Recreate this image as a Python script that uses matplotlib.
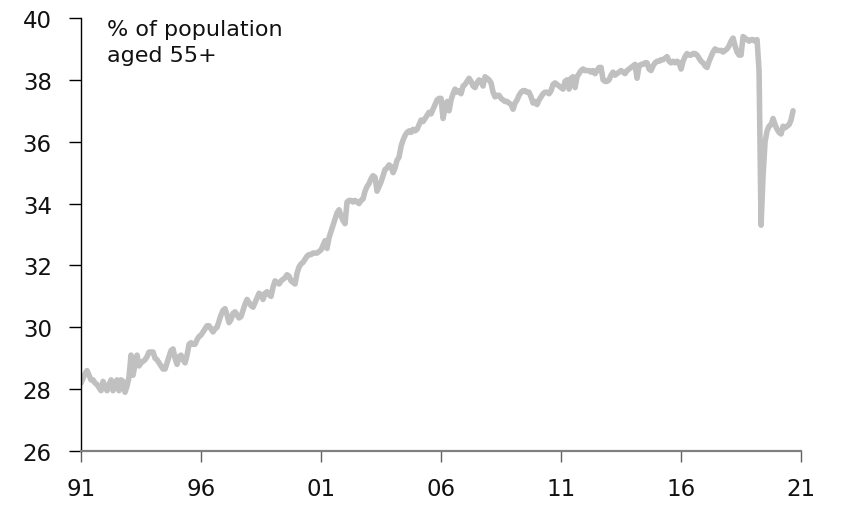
import numpy as np
import matplotlib
matplotlib.use("Agg")
import matplotlib.pyplot as plt

plt.rcParams["font.family"] = ["DejaVu Sans"]

# Monthly share of the population aged 55+ (%), one row per year
share = [
    28.2, 28.35, 28.5, 28.6, 28.45, 28.3, 28.3, 28.2, 28.15, 28.05, 27.95, 28.25,
    28.1, 27.95, 28.15, 28.3, 27.95, 28.2, 28.3, 27.95, 28.3, 28.25, 27.9, 28.1,
    28.4, 29.1, 28.45, 28.8, 29.1, 28.75, 28.85, 28.9, 28.95, 29.05, 29.2, 29.2,
    29.2, 29.0, 28.95, 28.85, 28.75, 28.65, 28.65, 28.85, 29.05, 29.25, 29.3, 29.0,
    28.8, 29.05, 29.1, 28.95, 28.85, 29.1, 29.45, 29.5, 29.45, 29.45, 29.6, 29.7,
    29.75, 29.85, 29.95, 30.05, 30.05, 29.95, 29.85, 29.95, 30.0, 30.2, 30.4, 30.55,
    30.6, 30.4, 30.15, 30.25, 30.45, 30.5, 30.4, 30.3, 30.35, 30.55, 30.75, 30.9,
    30.8, 30.7, 30.65, 30.8, 30.95, 31.1, 31.05, 30.9, 31.1, 31.15, 31.05, 31.0,
    31.3, 31.5, 31.45, 31.4, 31.5, 31.55, 31.6, 31.7, 31.65, 31.5, 31.45, 31.4,
    31.75, 31.95, 32.05, 32.1, 32.2, 32.3, 32.35, 32.35, 32.4, 32.4, 32.4, 32.45,
    32.5, 32.65, 32.8, 32.55, 32.9, 33.1, 33.3, 33.5, 33.7, 33.8, 33.6, 33.45,
    33.35, 34.05, 34.1, 34.1, 34.05, 34.1, 34.05, 34.0, 34.1, 34.15, 34.4, 34.55,
    34.65, 34.8, 34.9, 34.85, 34.4, 34.55, 34.7, 34.9, 35.1, 35.15, 35.25, 35.2,
    35.0, 35.15, 35.4, 35.5, 35.85, 36.05, 36.2, 36.3, 36.35, 36.3, 36.4, 36.35,
    36.4, 36.55, 36.7, 36.65, 36.75, 36.85, 36.95, 36.9, 37.05, 37.2, 37.35, 37.4,
    37.4, 36.75, 37.1, 37.3, 37.0, 37.35, 37.55, 37.7, 37.6, 37.65, 37.55, 37.8,
    37.85, 37.95, 38.05, 37.95, 37.8, 37.75, 37.9, 38.0, 37.95, 37.8, 38.1, 38.05,
    38.0, 37.9, 37.6, 37.45, 37.5, 37.5, 37.4, 37.35, 37.3, 37.3, 37.25, 37.2,
    37.05, 37.25, 37.35, 37.5, 37.6, 37.65, 37.65, 37.6, 37.6, 37.45, 37.25, 37.3,
    37.2, 37.35, 37.45, 37.55, 37.6, 37.6, 37.55, 37.65, 37.85, 37.9, 37.85, 37.8,
    37.75, 37.7, 37.95, 38.0, 37.7, 38.05, 38.1, 37.75, 38.1, 38.2, 38.3, 38.35,
    38.3, 38.3, 38.3, 38.25, 38.3, 38.2, 38.3, 38.4, 38.4, 38.0, 37.95, 37.95,
    38.0, 38.15, 38.25, 38.15, 38.2, 38.25, 38.3, 38.25, 38.2, 38.3, 38.35, 38.4,
    38.45, 38.5, 38.05, 38.45, 38.5, 38.5, 38.55, 38.55, 38.35, 38.3, 38.45, 38.55,
    38.6, 38.6, 38.65, 38.65, 38.7, 38.75, 38.6, 38.55, 38.6, 38.55, 38.6, 38.55,
    38.35, 38.6, 38.75, 38.85, 38.8, 38.8, 38.85, 38.85, 38.8, 38.7, 38.6, 38.55,
    38.45, 38.4, 38.6, 38.75, 38.9, 39.0, 38.95, 38.95, 38.95, 38.9, 38.95, 39.0,
    39.1, 39.25, 39.35, 39.1, 38.9, 38.8, 38.8, 39.4, 39.35, 39.3, 39.25, 39.3,
    39.3, 39.25, 39.3, 38.3, 33.3, 34.9, 36.0, 36.35, 36.5, 36.55, 36.75, 36.55,
    36.4, 36.3, 36.25, 36.5, 36.45, 36.5, 36.55, 36.7, 37.0,
]

# Axis labels: two-digit years every five years (month offsets from the start)
tick_months = [0, 60, 120, 180, 240, 300, 360]
tick_labels = ["91", "96", "01", "06", "11", "16", "21"]
y_ticks = [26, 28, 30, 32, 34, 36, 38, 40]

months = np.arange(len(share))

fig = plt.figure(figsize=(8.45, 5.06), dpi=100)
ax = fig.add_axes([0.0959, 0.1067, 0.8521, 0.8558])

ax.plot(months, share, color="#c0c0c0", linewidth=4.0,
        solid_joinstyle="round", solid_capstyle="round")

ax.set_xlim(0, 360)
ax.set_ylim(26, 40)
ax.set_xticks(tick_months)
ax.set_xticklabels(tick_labels)
ax.set_yticks(y_ticks)

for side in ("top", "right"):
    ax.spines[side].set_visible(False)
ax.spines["left"].set_color("black")
ax.spines["left"].set_linewidth(1.0)
ax.spines["bottom"].set_color("#808080")
ax.spines["bottom"].set_linewidth(1.6)

ax.tick_params(axis="y", direction="out", length=9, width=1.0, color="black",
               labelsize=16.5, labelcolor="#111111", pad=12)
ax.tick_params(axis="x", direction="out", length=8, width=1.0, color="#606060",
               labelsize=16.5, labelcolor="#111111", pad=11)

ax.text(0.036, 0.998, "% of population\naged 55+", transform=ax.transAxes,
        ha="left", va="top", fontsize=16, color="#111111", linespacing=1.4)

fig.savefig("out.png", dpi=100)
